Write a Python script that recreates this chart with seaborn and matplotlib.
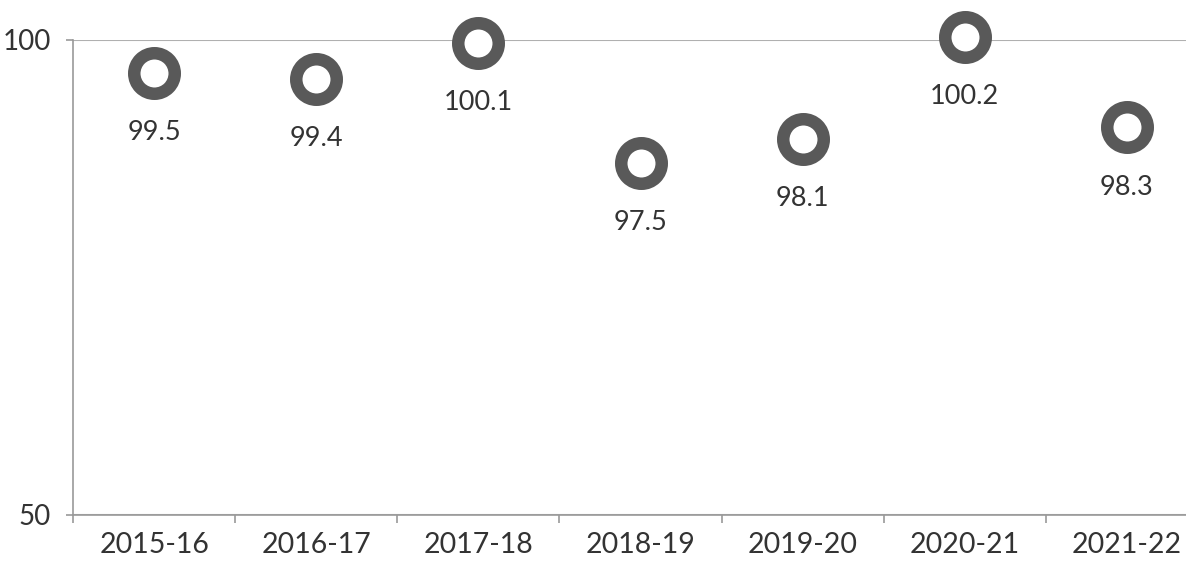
import matplotlib
matplotlib.use("Agg")
import matplotlib.pyplot as plt
import pandas as pd
import seaborn as sns
from matplotlib.ticker import FixedLocator

years = ["2015-16", "2016-17", "2017-18", "2018-19", "2019-20", "2020-21", "2021-22"]
# heights as drawn in the picture (the markers do not sit at the labelled values)
plotted = [96.5, 95.9, 99.7, 87.1, 89.6, 100.3, 90.8]
labels = ["99.5", "99.4", "100.1", "97.5", "98.1", "100.2", "98.3"]

df = pd.DataFrame({"year": years, "value": plotted, "label": labels})

sns.set_style("white")
plt.rcParams['font.family'] = ['Lato', 'DejaVu Sans']

fig = plt.figure(figsize=(11.86, 5.63), dpi=100)
ax = fig.add_axes([0.0616, 0.0853, 0.957, 0.8437])

sns.scatterplot(data=df, x="year", y="value", ax=ax, s=850, marker="o",
                facecolor="white", edgecolor="#595959", linewidth=9,
                clip_on=False, zorder=3)

for i, row in df.iterrows():
    ax.annotate(row["label"], (i, row["value"]), xytext=(0, -43),
                textcoords="offset points", ha="center", va="center",
                fontsize=19.5, color="#333333", annotation_clip=False)

ax.set_xlim(-0.5, len(years) - 0.5)
ax.set_ylim(50, 100)
ax.set_yticks([50, 100])
ax.set_xlabel("")
ax.set_ylabel("")

ax.yaxis.grid(True, color="#b0b0b0", linewidth=1.5)
ax.set_axisbelow(True)
for side in ["top", "right"]:
    ax.spines[side].set_visible(False)
for side in ["left", "bottom"]:
    ax.spines[side].set_color("#999999")
    ax.spines[side].set_linewidth(1.2)

ax.xaxis.set_minor_locator(FixedLocator([i - 0.5 for i in range(len(years) + 1)]))
ax.tick_params(axis="x", which="major", length=0, pad=12, labelsize=20.5, labelcolor="#333333")
ax.tick_params(axis="x", which="minor", bottom=True, length=6, width=1.2, color="#999999", direction="out")
ax.tick_params(axis="y", left=True, length=5, width=1.2, color="#999999", pad=11,
               labelsize=20, labelcolor="#333333", direction="out")

fig.savefig("out.png", dpi=100)
